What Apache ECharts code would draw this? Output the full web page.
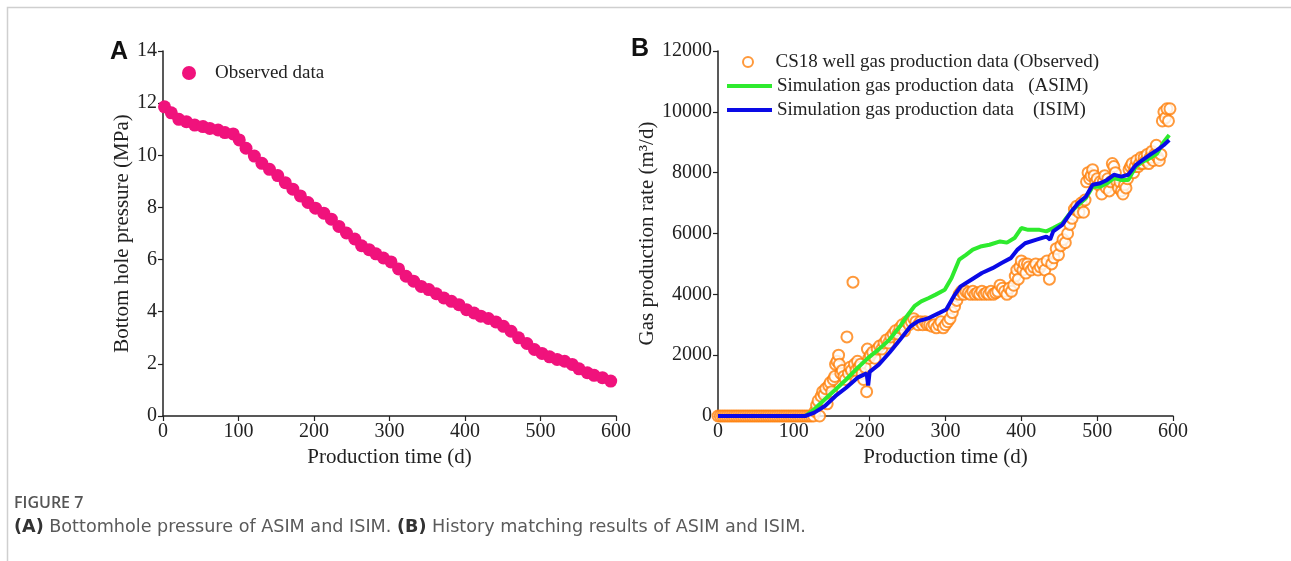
<!DOCTYPE html>
<html>
<head>
<meta charset="utf-8">
<script src="https://cdn.jsdelivr.net/npm/echarts@6/dist/echarts.min.js"></script>
<style>
html,body{margin:0;padding:0;background:#fff;}
#chart{width:1291px;height:561px;}
</style>
</head>
<body>
<div id="chart"></div>
<script>
// ---- Panel A: bottom hole pressure (observed) ----
const pressureDays = [2,11,21,31,42,53,62,73,82,93,101,110,121,131,141,152,162,172,182,192,202,213,223,233,243,254,263,273,282,292,302,312,322,332,342,352,362,372,382,392,402,412,421,431,441,451,461,471,482,492,502,512,522,532,542,551,562,571,582,593];
const pressureVals = [11.86,11.63,11.38,11.29,11.16,11.1,11.03,10.97,10.87,10.82,10.59,10.27,9.97,9.69,9.46,9.22,8.95,8.7,8.44,8.19,7.97,7.78,7.55,7.27,7.02,6.79,6.53,6.38,6.22,6.06,5.91,5.64,5.36,5.17,4.97,4.85,4.69,4.53,4.4,4.27,4.08,3.95,3.83,3.74,3.61,3.44,3.25,3.0,2.78,2.55,2.4,2.27,2.17,2.1,1.98,1.81,1.66,1.56,1.47,1.34];

// ---- Panel B: observed gas production ----
const obsDays = [0,3,6,9,12,15,18,21,24,27,30,33,36,39,42,45,48,51,54,57,60,63,66,69,72,75,78,81,84,87,90,93,96,99,102,105,108,111,114,117,120,123,126,128,130,132,134,136,138,140,142,144,146,148,150,152,154,155,157,159,160,162,164,166,168,170,172,174,176,178,180,182,184,186,188,190,192,194,196,197,199,201,204,207,210,213,216,219,222,225,228,231,234,237,240,243,246,249,252,255,258,261,264,267,270,273,276,279,282,285,288,291,294,297,300,303,306,309,312,315,318,321,324,327,330,333,336,339,342,345,348,351,354,357,360,363,366,369,372,375,378,381,384,387,390,392,394,396,398,400,402,404,406,408,410,413,416,419,422,425,428,431,434,437,440,443,446,449,452,455,458,461,464,467,470,473,476,479,482,484,486,488,490,492,494,496,498,500,502,504,506,508,510,512,514,516,518,520,522,524,526,528,530,532,534,536,538,540,542,544,546,548,550,552,554,556,558,560,562,564,566,568,570,572,574,576,578,580,582,584,586,588,590,592,594,596];
const obsVals = [0,0,0,0,0,0,0,0,0,0,0,0,0,0,0,0,0,0,0,0,0,0,0,0,0,0,0,0,0,0,0,0,0,0,0,0,0,0,0,0,0,0,0,150,350,500,0,650,800,700,900,400,1000,1100,800,1200,1300,1700,1800,2000,1700,1400,1500,1300,1200,2600,1400,1600,1500,4400,1700,1500,1800,1600,1700,1400,1200,1600,800,2200,1900,2000,2100,1900,2200,2300,2200,2400,2500,2400,2600,2700,2800,2700,2900,3000,2800,3100,3000,3100,3200,3100,3000,3100,3000,3100,3000,3000,2950,3000,2900,3000,3100,2900,3000,3100,3200,3400,3600,3800,4000,4100,4000,4100,4050,4000,4100,4000,4050,4000,4100,4000,4050,4000,4100,4000,4050,4100,4300,4200,4100,4000,4200,4100,4300,4600,4800,4500,4900,5100,4800,5000,4700,5000,4900,4800,4900,5000,4800,4900,5000,4800,5100,4500,5000,5200,5500,5300,5600,5800,5700,6000,6300,6500,6800,6900,6700,7000,6700,7100,7700,8000,7800,7900,8100,7900,7700,7800,7600,7700,7300,7700,7900,7500,7800,7400,7700,8300,8200,8000,7700,7500,7700,7400,7300,7600,7500,7800,8100,8200,8300,8000,8200,8400,8200,8300,8500,8300,8500,8400,8600,8300,8500,8700,8400,8600,8900,8500,8400,8600,9700,10000,9800,10100,9700,10100];

// ---- Panel B: ASIM simulation ----
const asimDays = [0,30,60,90,115,127,141,155,169,184,198,212,226,240,249,259,268,278,287,299,308,318,327,336,346,358,372,381,391,400,409,424,433,442,454,466,475,485,494,504,513,522,532,541,551,560,569,579,588,595];
const asimVals = [0,0,0,0,0,220,550,870,1200,1580,1910,2190,2510,2950,3280,3610,3770,3880,3990,4150,4540,5140,5300,5470,5570,5630,5740,5700,5850,6180,6120,6120,6070,6180,6340,6720,6940,7160,7540,7540,7650,7820,7760,7760,8200,8360,8470,8630,9020,9240];

// ---- Panel B: ISIM simulation ----
const isimDays = [0,30,60,90,115,127,141,155,169,184,196,198,200,212,226,240,254,264,278,292,301,311,320,334,348,362,374,386,395,405,419,433,438,442,454,466,475,485,494,504,513,522,532,541,551,560,569,579,588,595];
const isimVals = [0,0,0,0,0,110,330,660,930,1260,1400,1000,1450,1690,2080,2510,2950,3120,3220,3390,3500,3940,4260,4480,4700,4860,5030,5190,5470,5680,5790,5900,5800,6070,6280,6720,7000,7210,7600,7650,7760,7930,7870,7930,8250,8420,8580,8740,8910,9070];

// ---- Axis ticks ----
const xTicks = [0,100,200,300,400,500,600];
const yTicksA = [0,2,4,6,8,10,12,14];
const yTicksB = [0,2000,4000,6000,8000,10000,12000];

const serif = '"Liberation Serif","Times New Roman",serif';
const axisColor = '#222';

function pairs(xs, ys){ return xs.map((x,i)=>[x, ys[i]]); }

function xAxisCfg(gridIndex){
  return {
    type:'value', gridIndex, min:xTicks[0], max:xTicks[xTicks.length-1], interval:100,
    name:'Production time (d)', nameLocation:'middle', nameGap:31,
    nameTextStyle:{fontFamily:serif,fontSize:21,color:axisColor},
    axisLine:{show:true,onZero:false,lineStyle:{color:axisColor,width:1.5}},
    axisTick:{show:true,inside:false,length:5,lineStyle:{color:axisColor,width:1.2}},
    axisLabel:{fontFamily:serif,fontSize:20,color:axisColor,margin:6,formatter:v=>String(v)},
    splitLine:{show:false}
  };
}
function yAxisCfg(gridIndex, ticks, name, gap){
  return {
    type:'value', gridIndex, min:ticks[0], max:ticks[ticks.length-1], interval:ticks[1]-ticks[0],
    name, nameLocation:'middle', nameGap:gap,
    nameTextStyle:{fontFamily:serif,fontSize:21,color:axisColor},
    axisLine:{show:true,lineStyle:{color:axisColor,width:1.5}},
    axisTick:{show:true,length:5,lineStyle:{color:axisColor,width:1.2}},
    axisLabel:{fontFamily:serif,fontSize:20,color:axisColor,margin:6,formatter:v=>String(v)},
    splitLine:{show:false}
  };
}

const chart = echarts.init(document.getElementById('chart'), null, {renderer:'canvas'});
chart.setOption({
  backgroundColor:'#ffffff',
  animation:false,
  grid:[
    {left:163, top:51, width:453, height:365},
    {left:718, top:51, width:455, height:365}
  ],
  xAxis:[xAxisCfg(0), xAxisCfg(1)],
  yAxis:[
    yAxisCfg(0, yTicksA, 'Bottom hole pressure (MPa)', 29),
    yAxisCfg(1, yTicksB, 'Gas production rate (m³/d)', 51)
  ],
  legend:[
    {
      left:182, top:63, padding:0, orient:'vertical', itemWidth:14, itemHeight:14,
      textStyle:{fontFamily:serif,fontSize:19,color:axisColor,padding:[0,0,0,14],lineHeight:20},
      data:[{name:'Observed data', icon:'circle'}]
    },
    {
      left:742, top:52, padding:0, orient:'vertical', itemWidth:45, itemHeight:10,
      textStyle:{fontFamily:serif,fontSize:19,color:axisColor,lineHeight:20},
      data:[{name:'CS18 well gas production data (Observed)', icon:'emptyCircle', itemStyle:{borderWidth:2}}]
    },
    {
      left:727, top:76, padding:0, orient:'vertical', itemWidth:45, itemHeight:4, itemGap:4,
      textStyle:{fontFamily:serif,fontSize:19,color:axisColor,lineHeight:20},
      data:[
        {name:'Simulation gas production data   (ASIM)', icon:'rect'},
        {name:'Simulation gas production data    (ISIM)', icon:'rect'}
      ]
    }
  ],
  series:[
    {
      name:'Observed data', type:'scatter', xAxisIndex:0, yAxisIndex:0,
      symbol:'circle', symbolSize:13,
      itemStyle:{color:'#F0127C', opacity:1},
      data:pairs(pressureDays, pressureVals)
    },
    {
      name:'CS18 well gas production data (Observed)', type:'scatter', xAxisIndex:1, yAxisIndex:1,
      symbol:'emptyCircle', symbolSize:11,
      itemStyle:{color:'#FF7F0A', borderColor:'#FF7F0A', borderWidth:2},
      data:pairs(obsDays, obsVals), z:2
    },
    {
      name:'Simulation gas production data   (ASIM)', type:'line', xAxisIndex:1, yAxisIndex:1,
      symbol:'none', showSymbol:false,
      lineStyle:{color:'#2EEA2E', width:4}, itemStyle:{color:'#2EEA2E'},
      data:pairs(asimDays, asimVals), z:3
    },
    {
      name:'Simulation gas production data    (ISIM)', type:'line', xAxisIndex:1, yAxisIndex:1,
      symbol:'none', showSymbol:false,
      lineStyle:{color:'#0A0AE6', width:4}, itemStyle:{color:'#0A0AE6'},
      data:pairs(isimDays, isimVals), z:4
    }
  ],
  graphic:[
    {type:'polyline', shape:{points:[[7.5,561],[7.5,7.5],[1291,7.5]]}, style:{stroke:'#cfcfcf',lineWidth:1.5,fill:null}, silent:true},
    {type:'text', left:110, top:40, style:{text:'A', font:'bold 25px "Liberation Sans",Arial,sans-serif', fill:'#111'}},
    {type:'text', left:631, top:37, style:{text:'B', font:'bold 25px "Liberation Sans",Arial,sans-serif', fill:'#111'}},
    {type:'text', left:14, top:495, style:{text:'FIGURE 7', font:'600 16px "Open Sans",sans-serif', fill:'#555'}},
    {type:'text', left:14, top:518, style:{
      text:'{b|(A)} Bottomhole pressure of ASIM and ISIM. {b|(B)} History matching results of ASIM and ISIM.',
      font:'17.6px "DejaVu Sans",sans-serif', fill:'#5a5a5a',
      rich:{b:{fontFamily:'"DejaVu Sans",sans-serif',fontSize:17.6,fontWeight:'bold',fill:'#333'}}
    }}
  ]
});
</script>
</body>
</html>
